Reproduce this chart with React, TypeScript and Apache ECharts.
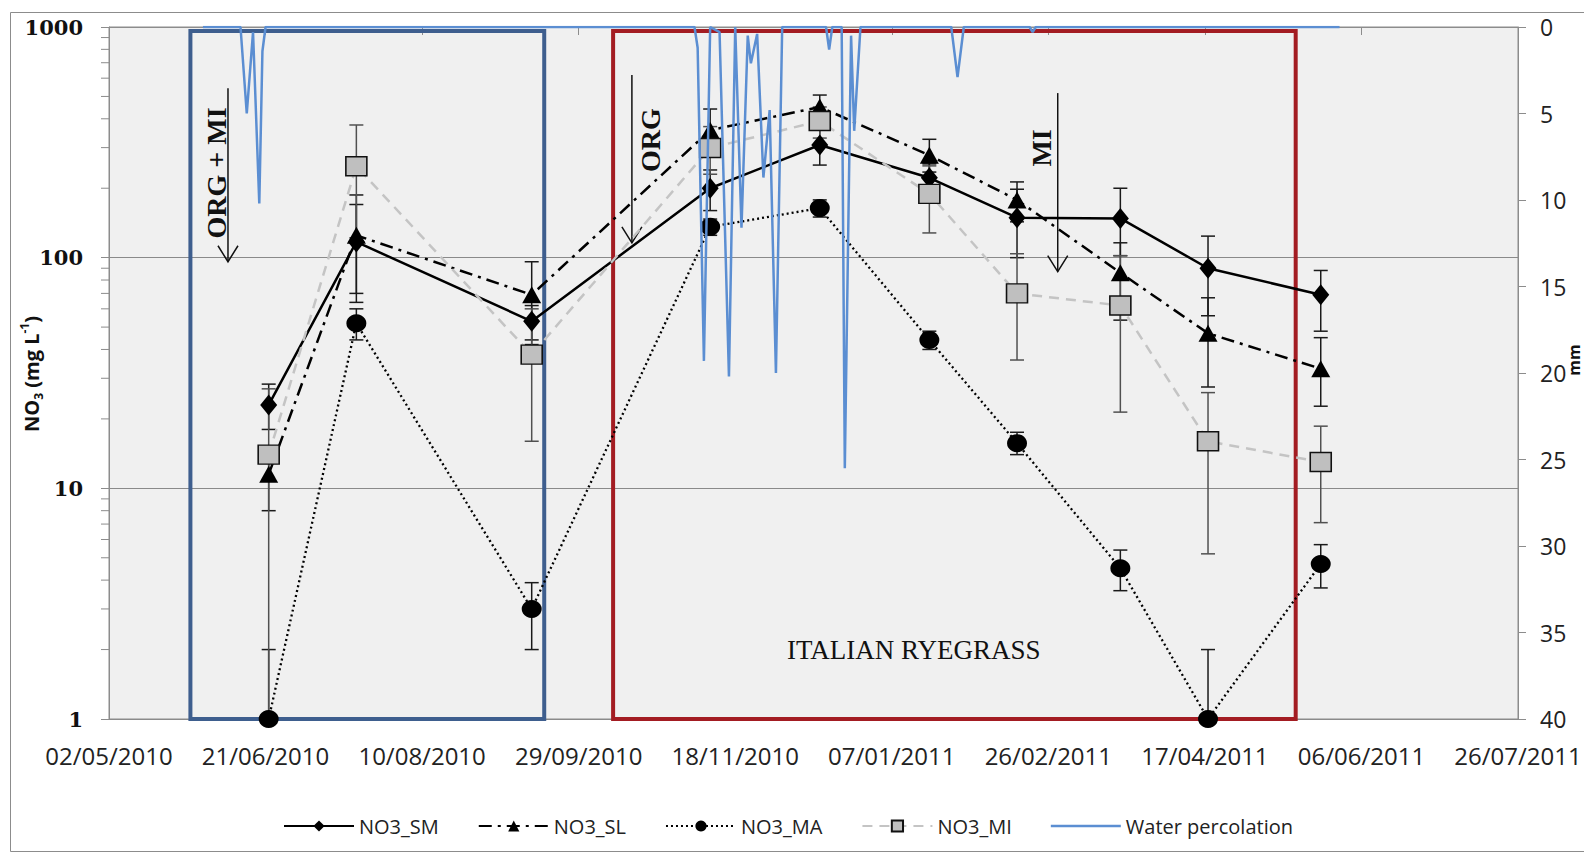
import React, { useEffect, useRef } from 'react';
import * as echarts from 'echarts';

// ---------- DATA ----------
const sampleDates = ['2010-06-22', '2010-07-20', '2010-09-14', '2010-11-10', '2010-12-15', '2011-01-19', '2011-02-16', '2011-03-21', '2011-04-18', '2011-05-24'];

const no3SM = [23, 117, 53, 200, 308, 222, 149, 148, 90, 69];
const no3SMLow = [18, 64, 44, 160, 252, 190, 100, 102, 56, 48];
const no3SMHigh = [28.3, 170, 62, 240, 364, 255, 198, 200, 124, 88];

const no3SL = [11.5, 125, 69, 357, 450, 278, 178, 86, 47, 33];
const no3SLLow = [8, 70, 42, 280, 400, 235, 143, 53.6, 27.5, 22.7];
const no3SLHigh = [15, 187, 96, 441, 507, 326, 213, 116, 67, 45];

const no3MA = [1, 52, 3.0, 136, 164, 44, 15.7, 4.5, 1, 4.7];
const no3MALow = [1, 44, 2, 125, 150, 40, 14, 3.6, 1, 3.7];
const no3MAHigh = [2, 60, 3.9, 147, 178, 48, 17.5, 5.4, 2, 5.7];

const no3MI = [14, 249, 38, 299, 391, 189, 70, 62, 16, 13];
const no3MILow = [1, 122, 16, 230, 330, 128, 36, 21.4, 5.2, 7.1];
const no3MIHigh = [27, 376, 60, 370, 450, 250, 104, 102, 26, 18.6];

// Water percolation (mm), daily record read from the spikes
const percolation: [string, number][] = [
  ['2010-06-01', 0], ['2010-06-13', 0], ['2010-06-15', 5.0], ['2010-06-17', 0.3], ['2010-06-19', 10.2], ['2010-06-20', 1.4], ['2010-06-21', 0],
  ['2010-11-05', 0], ['2010-11-06', 1.2], ['2010-11-08', 19.3], ['2010-11-10', 0], ['2010-11-13', 0.3], ['2010-11-16', 20.2], ['2010-11-18', 0],
  ['2010-11-20', 11.6], ['2010-11-22', 0.5], ['2010-11-23', 2.1], ['2010-11-25', 0.4], ['2010-11-27', 8.7], ['2010-11-29', 4.8], ['2010-12-01', 20.0],
  ['2010-12-03', 0], ['2010-12-17', 0], ['2010-12-18', 1.3], ['2010-12-19', 0], ['2010-12-22', 0], ['2010-12-23', 25.5], ['2010-12-25', 0.5],
  ['2010-12-26', 6.0], ['2010-12-28', 0], ['2011-01-26', 0], ['2011-01-28', 2.9], ['2011-01-30', 0], ['2011-02-20', 0], ['2011-02-21', 0.3],
  ['2011-02-22', 0], ['2011-05-30', 0],
];

// axes
const xStartDate = '2010-05-02';
const xEndDate = '2011-07-26';
const xTickDays = 50;
const leftMin = 1;
const leftMax = 1000;
const rightMin = 0;
const rightMax = 40;
const rightStep = 5;

// period boxes
const boxStart = ['2010-05-28', '2010-10-10'];
const boxEnd = ['2010-09-18', '2011-05-16'];
const boxTop = [960, 960];
const boxBottom = [1, 1];
const boxColors = ['#3E5E8E', '#A31C22'];

// fertilisation arrows
const arrowDates = ['2010-06-09', '2010-10-16', '2011-03-01'];
const arrowTop = [543, 619, 517];
const arrowBottom = [96, 116, 87];
const arrowLabels = ['ORG + MI', 'ORG', 'MI'];
const arrowLabelY = [233, 323, 299];
const arrowLabelDx = [-11, 19, -16];

const cropLabel = 'ITALIAN RYEGRASS';
const cropLabelDate = '2011-01-14';
const cropLabelY = 2.0;

const legendNames = ['NO3_SM', 'NO3_SL', 'NO3_MA', 'NO3_MI', 'Water percolation'];

// ---------- helpers ----------
const DAY = 86400000;
const parse = (s: string) => {
  const [y, m, d] = s.split('-').map(Number);
  return Date.UTC(y, m - 1, d);
};
const START = parse(xStartDate);
const toDay = (s: string) => (parse(s) - START) / DAY;
const pad = (n: number) => String(n).padStart(2, '0');
const fmtDay = (v: number) => {
  const dt = new Date(START + Math.round(v) * DAY);
  return `${pad(dt.getUTCDate())}/${pad(dt.getUTCMonth() + 1)}/${dt.getUTCFullYear()}`;
};

const sampleDays = sampleDates.map(toDay);
const pts = (vals: number[]) => sampleDays.map((d, i) => [d, vals[i]]);

const AXIS = '#8c8c8c';
const SANS = '"Open Sans", "DejaVu Sans", sans-serif';
const SERIF = '"Liberation Serif", "DejaVu Serif", serif';
const PERC_COLOR = '#5B8ED2';
// a plain line icon (bounding box 70x14, stroke band in the middle)
const LINE_ICON = 'path://M0,0 M0,5.7 L70,5.7 L70,8.3 L0,8.3 Z M70,14';

const errorBars = (name: string, lows: number[], highs: number[], color: string) => ({
  type: 'custom',
  name,
  z: 2,
  silent: true,
  data: sampleDays.map((d, i) => [d, lows[i], highs[i]]),
  encode: { x: 0, y: [1, 2] },
  renderItem: (_p: any, api: any) => {
    const x = api.value(0);
    const a = api.coord([x, api.value(2)]);
    const b = api.coord([x, api.value(1)]);
    const cw = 7;
    const style = { stroke: color, lineWidth: 1.5 };
    return {
      type: 'group',
      children: [
        { type: 'line', shape: { x1: a[0], y1: a[1], x2: b[0], y2: b[1] }, style },
        { type: 'line', shape: { x1: a[0] - cw, y1: a[1], x2: a[0] + cw, y2: a[1] }, style },
        { type: 'line', shape: { x1: b[0] - cw, y1: b[1], x2: b[0] + cw, y2: b[1] }, style },
      ],
    };
  },
});

const minorTickValues: number[] = [];
for (let dec = 1; dec < leftMax; dec *= 10) {
  for (let k = 2; k <= 9; k++) minorTickValues.push(k * dec);
}

export default function App() {
  const ref = useRef<HTMLDivElement>(null);
  useEffect(() => {
    const chart = echarts.init(ref.current!, null, { renderer: 'svg' });
    const option: any = {
      animation: false,
      backgroundColor: '#ffffff',
      grid: {
        left: 109, right: 66, top: 27, bottom: 135,
        show: true, backgroundColor: '#F0F0F0', borderColor: AXIS, borderWidth: 1,
        containLabel: false, outerBoundsMode: 'none',
      },
      legend: {
        data: legendNames.map((n) =>
          n === 'Water percolation'
            ? { name: n, icon: LINE_ICON, itemStyle: { color: PERC_COLOR } }
            : { name: n }
        ),
        left: 278,
        top: 811,
        itemWidth: 70,
        itemHeight: 14,
        itemGap: 39,
        textStyle: { fontFamily: SANS, fontSize: 20, color: '#222' },
      },
      xAxis: {
        type: 'value',
        min: 0,
        max: toDay(xEndDate),
        interval: xTickDays,
        axisLine: { show: true, lineStyle: { color: AXIS, width: 1 } },
        axisTick: { show: true, length: 8, lineStyle: { color: AXIS } },
        splitLine: { show: false },
        axisLabel: {
          formatter: fmtDay, margin: 24,
          fontFamily: SANS, fontSize: 24, color: '#222',
        },
      },
      yAxis: [
        {
          type: 'log', logBase: 10, min: leftMin, max: leftMax, interval: 1,
          axisLine: { show: true, lineStyle: { color: AXIS, width: 1 } },
          axisTick: { show: true, length: 8, lineStyle: { color: AXIS } },
          splitLine: { show: true, lineStyle: { color: '#8a8a8a', width: 1 } },
          axisLabel: {
            formatter: (v: number) => String(Math.round(v)), margin: 26,
            fontFamily: '"DejaVu Serif", serif', fontWeight: 'bold', fontSize: 21, color: '#111',
          },
        },
        {
          type: 'value', position: 'right', inverse: true,
          min: rightMin, max: rightMax, interval: rightStep,
          axisLine: { show: true, lineStyle: { color: AXIS, width: 1 } },
          axisTick: { show: true, length: 8, lineStyle: { color: AXIS } },
          splitLine: { show: false },
          axisLabel: { margin: 22, fontFamily: SANS, fontSize: 23, color: '#222' },
        },
      ],
      series: [
        {
          name: 'NO3_SM', type: 'line', z: 3, data: pts(no3SM),
          symbol: 'diamond', symbolSize: [17, 21],
          itemStyle: { color: '#000' },
          lineStyle: { color: '#000', width: 2.5 },
        },
        {
          name: 'NO3_SL', type: 'line', z: 3, data: pts(no3SL),
          symbol: 'triangle', symbolSize: [19, 17],
          itemStyle: { color: '#000' },
          lineStyle: { color: '#000', width: 2.5, type: [13, 6, 3, 6] },
        },
        {
          name: 'NO3_MA', type: 'line', z: 3, data: pts(no3MA),
          symbol: 'circle', symbolSize: [20, 18],
          itemStyle: { color: '#000' },
          lineStyle: { color: '#000', width: 2.3, type: [2, 3] },
        },
        {
          name: 'NO3_MI', type: 'line', z: 3, data: pts(no3MI),
          symbol: 'rect', symbolSize: [21, 19],
          itemStyle: { color: '#BFBFBF', borderColor: '#111', borderWidth: 1.5 },
          lineStyle: { color: '#C4C4C4', width: 2.5, type: [10, 7] },
        },
        {
          name: 'Water percolation', type: 'line', yAxisIndex: 1, z: 4,
          data: percolation.map(([d, v]) => [toDay(d), v]),
          symbol: 'none', showSymbol: false,
          itemStyle: { color: PERC_COLOR },
          lineStyle: { color: PERC_COLOR, width: 2.5 },
        },
        errorBars('SM err', no3SMLow, no3SMHigh, '#1a1a1a'),
        errorBars('SL err', no3SLLow, no3SLHigh, '#1a1a1a'),
        errorBars('MA err', no3MALow, no3MAHigh, '#1a1a1a'),
        errorBars('MI err', no3MILow, no3MIHigh, '#505050'),
        {
          type: 'custom', name: 'boxes', z: 1, silent: true,
          data: boxStart.map((s, i) => [toDay(s), toDay(boxEnd[i]), boxTop[i], boxBottom[i], i]),
          encode: { x: [0, 1], y: [2, 3] },
          renderItem: (_p: any, api: any) => {
            const p0 = api.coord([api.value(0), api.value(2)]);
            const p1 = api.coord([api.value(1), api.value(3)]);
            return {
              type: 'rect',
              shape: { x: p0[0], y: p0[1], width: p1[0] - p0[0], height: p1[1] - p0[1] },
              style: { fill: 'none', stroke: boxColors[api.value(4)], lineWidth: 4 },
            };
          },
        },
        {
          type: 'custom', name: 'minor ticks', z: 2, silent: true,
          data: minorTickValues.map((v) => [0, v]),
          encode: { x: 0, y: 1 },
          renderItem: (_p: any, api: any) => {
            const p = api.coord([api.value(0), api.value(1)]);
            return {
              type: 'line',
              shape: { x1: p[0] - 8, y1: p[1], x2: p[0], y2: p[1] },
              style: { stroke: AXIS, lineWidth: 1 },
            };
          },
        },
      ],
    };
    chart.setOption(option);

    const px = (d: string, v: number) => chart.convertToPixel({ seriesIndex: 0 }, [toDay(d), v]) as number[];
    const graphics: any[] = [
      {
        type: 'rect', silent: true,
        shape: { x: 10.5, y: 12.5, width: 1600, height: 839 },
        style: { fill: 'none', stroke: '#8c8c8c', lineWidth: 1 },
      },
      {
        type: 'text', x: 31, y: 374, rotation: Math.PI / 2, silent: true,
        style: {
          text: '{n|NO}{s|3}{n| (mg L}{p|-1}{n|)}',
          align: 'center', verticalAlign: 'middle', fill: '#111',
          rich: {
            n: { fontFamily: SANS, fontSize: 20, fontWeight: 'bold', lineHeight: 26, fill: '#111' },
            s: { fontFamily: SANS, fontSize: 12, fontWeight: 'bold', lineHeight: 14, verticalAlign: 'bottom', fill: '#111' },
            p: { fontFamily: SANS, fontSize: 12, fontWeight: 'bold', lineHeight: 14, verticalAlign: 'top', fill: '#111' },
          },
        },
      },
      {
        type: 'text', x: 1574, y: 360, rotation: Math.PI / 2, silent: true,
        style: { text: 'mm', fontFamily: SANS, fontSize: 16, fontWeight: 'bold', fill: '#111', align: 'center', verticalAlign: 'middle' },
      },
    ];
    arrowDates.forEach((d, i) => {
      const a = px(d, arrowTop[i]);
      const b = px(d, arrowBottom[i]);
      const t = px(d, arrowLabelY[i]);
      graphics.push(
        { type: 'line', silent: true, shape: { x1: a[0], y1: a[1], x2: b[0], y2: b[1] }, style: { stroke: '#111', lineWidth: 1.5 } },
        {
          type: 'polyline', silent: true,
          shape: { points: [[b[0] - 10, b[1] - 16], [b[0], b[1]], [b[0] + 10, b[1] - 16]] },
          style: { stroke: '#111', lineWidth: 1.5, fill: 'none' },
        },
        {
          type: 'text', silent: true, x: t[0] + arrowLabelDx[i], y: t[1], rotation: Math.PI / 2,
          style: {
            text: arrowLabels[i], fontFamily: SERIF, fontSize: 28, fontWeight: 'bold',
            fill: '#111', align: 'center', verticalAlign: 'middle',
          },
        },
      );
    });
    const c = px(cropLabelDate, cropLabelY);
    graphics.push({
      type: 'text', silent: true, x: c[0], y: c[1],
      style: { text: cropLabel, fontFamily: SERIF, fontSize: 27, fill: '#111', align: 'center', verticalAlign: 'middle' },
    });
    chart.setOption({ graphic: graphics });

    return () => chart.dispose();
  }, []);
  return (
    <div
      ref={ref}
      style={{ position: 'fixed', left: 0, top: 0, width: 1584, height: 854, background: '#fff' }}
    />
  );
}
